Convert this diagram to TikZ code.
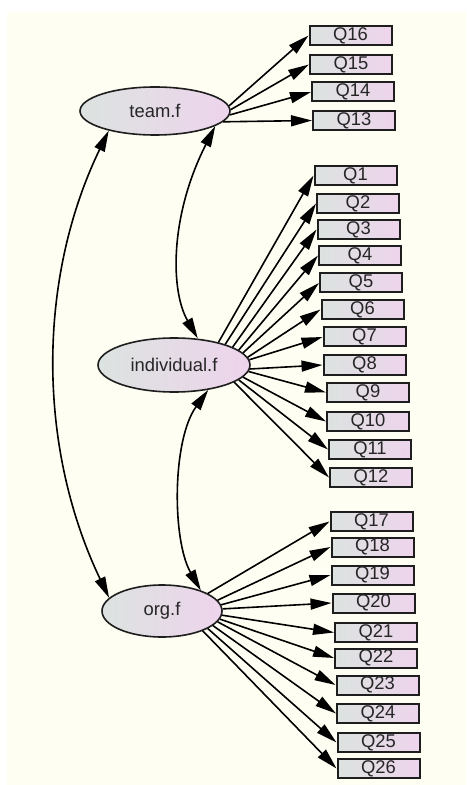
\documentclass[tikz,border=0pt]{standalone}
\usepackage{fontspec}
\setmainfont{Liberation Sans}
\usetikzlibrary{shapes.geometric,arrows.meta}
\definecolor{bgcream}{RGB}{254,254,242}
\definecolor{gl}{RGB}{220,227,224}
\definecolor{gr}{RGB}{238,212,236}
\definecolor{edgec}{RGB}{30,30,30}
\begin{document}
\begin{tikzpicture}[x=0.5pt,y=-0.5pt,
  obs/.style={draw=edgec,line width=1pt,left color=gl,right color=gr,minimum width=41pt,minimum height=9.5pt,inner sep=0pt,font=\fontsize{9.2}{10}\selectfont,text=black!85},
  lat/.style={ellipse,draw=edgec,line width=0.8pt,left color=gl,right color=gr,inner sep=0pt,font=\fontsize{9.2}{10}\selectfont,text=black!85},
  ld/.style={draw=black,line width=0.8pt,-{Triangle[length=10.5pt,width=5.5pt]}},
  cov/.style={draw=black,line width=0.8pt,{Triangle[length=10.5pt,width=5.5pt]}-{Triangle[length=10.5pt,width=5.5pt]}}
]
\useasboundingbox (0,0) rectangle (466,785);
\fill[white] (0,0) rectangle (466,785);
\fill[bgcream] (7,12) rectangle (466,785);

% latent variables
\node[lat,minimum width=75pt,minimum height=24pt] (tf) at (155,111) {team.f};
\node[lat,minimum width=76pt,minimum height=27pt] (if) at (174,365) {individual.f};
\node[lat,minimum width=60pt,minimum height=26pt] (of) at (162,611) {org.f};

% observed variables
\foreach \n/\x/\y in {16/350.5/35.5,15/351/64.5,14/353/92,13/354/120.5,
  1/355.5/175.5,2/358/203.5,3/358.5/229.5,4/360/255.5,5/361/283,6/362.5/309.5,
  7/364.5/337,8/364.5/365,9/368/392.5,10/368/421.5,11/370/449.5,12/371/477.5,
  17/371.5/521.5,18/372.5/547,19/372.5/575,20/373.5/603,21/376/632.5,22/376/658,
  23/377.5/685,24/378/713.5,25/378.5/742.5,26/378.5/768.5}
  \node[obs] (q\n) at (\x,\y) {Q\n};

% loadings
\foreach \n/\a in {16/4,15/1,14/-3,13/-9}
  \draw[ld] (tf.\a) -- (q\n.west);
\foreach \n/\a in {1/27,2/22,3/17.5,4/13.4,5/10,6/6.8,7/4.8,8/-3,9/-5.4,10/-10,11/-13,12/-16}
  \draw[ld] (if.\a) -- (q\n.west);
\foreach \n/\a in {17/21,18/11.8,19/6.6,20/2,21/-4.6,22/-8,23/-11.8,24/-16,25/-21,26/-26}
  \draw[ld] (of.\a) -- (q\n.west);

% covariances
\draw[cov] (tf.203) .. controls (37,279) and (37,447) .. (of.166);
\draw[cov] (tf.-14) .. controls (170,215) and (170,290) .. (if.48);
\draw[cov] (if.-36) .. controls (172,440) and (172,540) .. (of.28);
\end{tikzpicture}
\end{document}
